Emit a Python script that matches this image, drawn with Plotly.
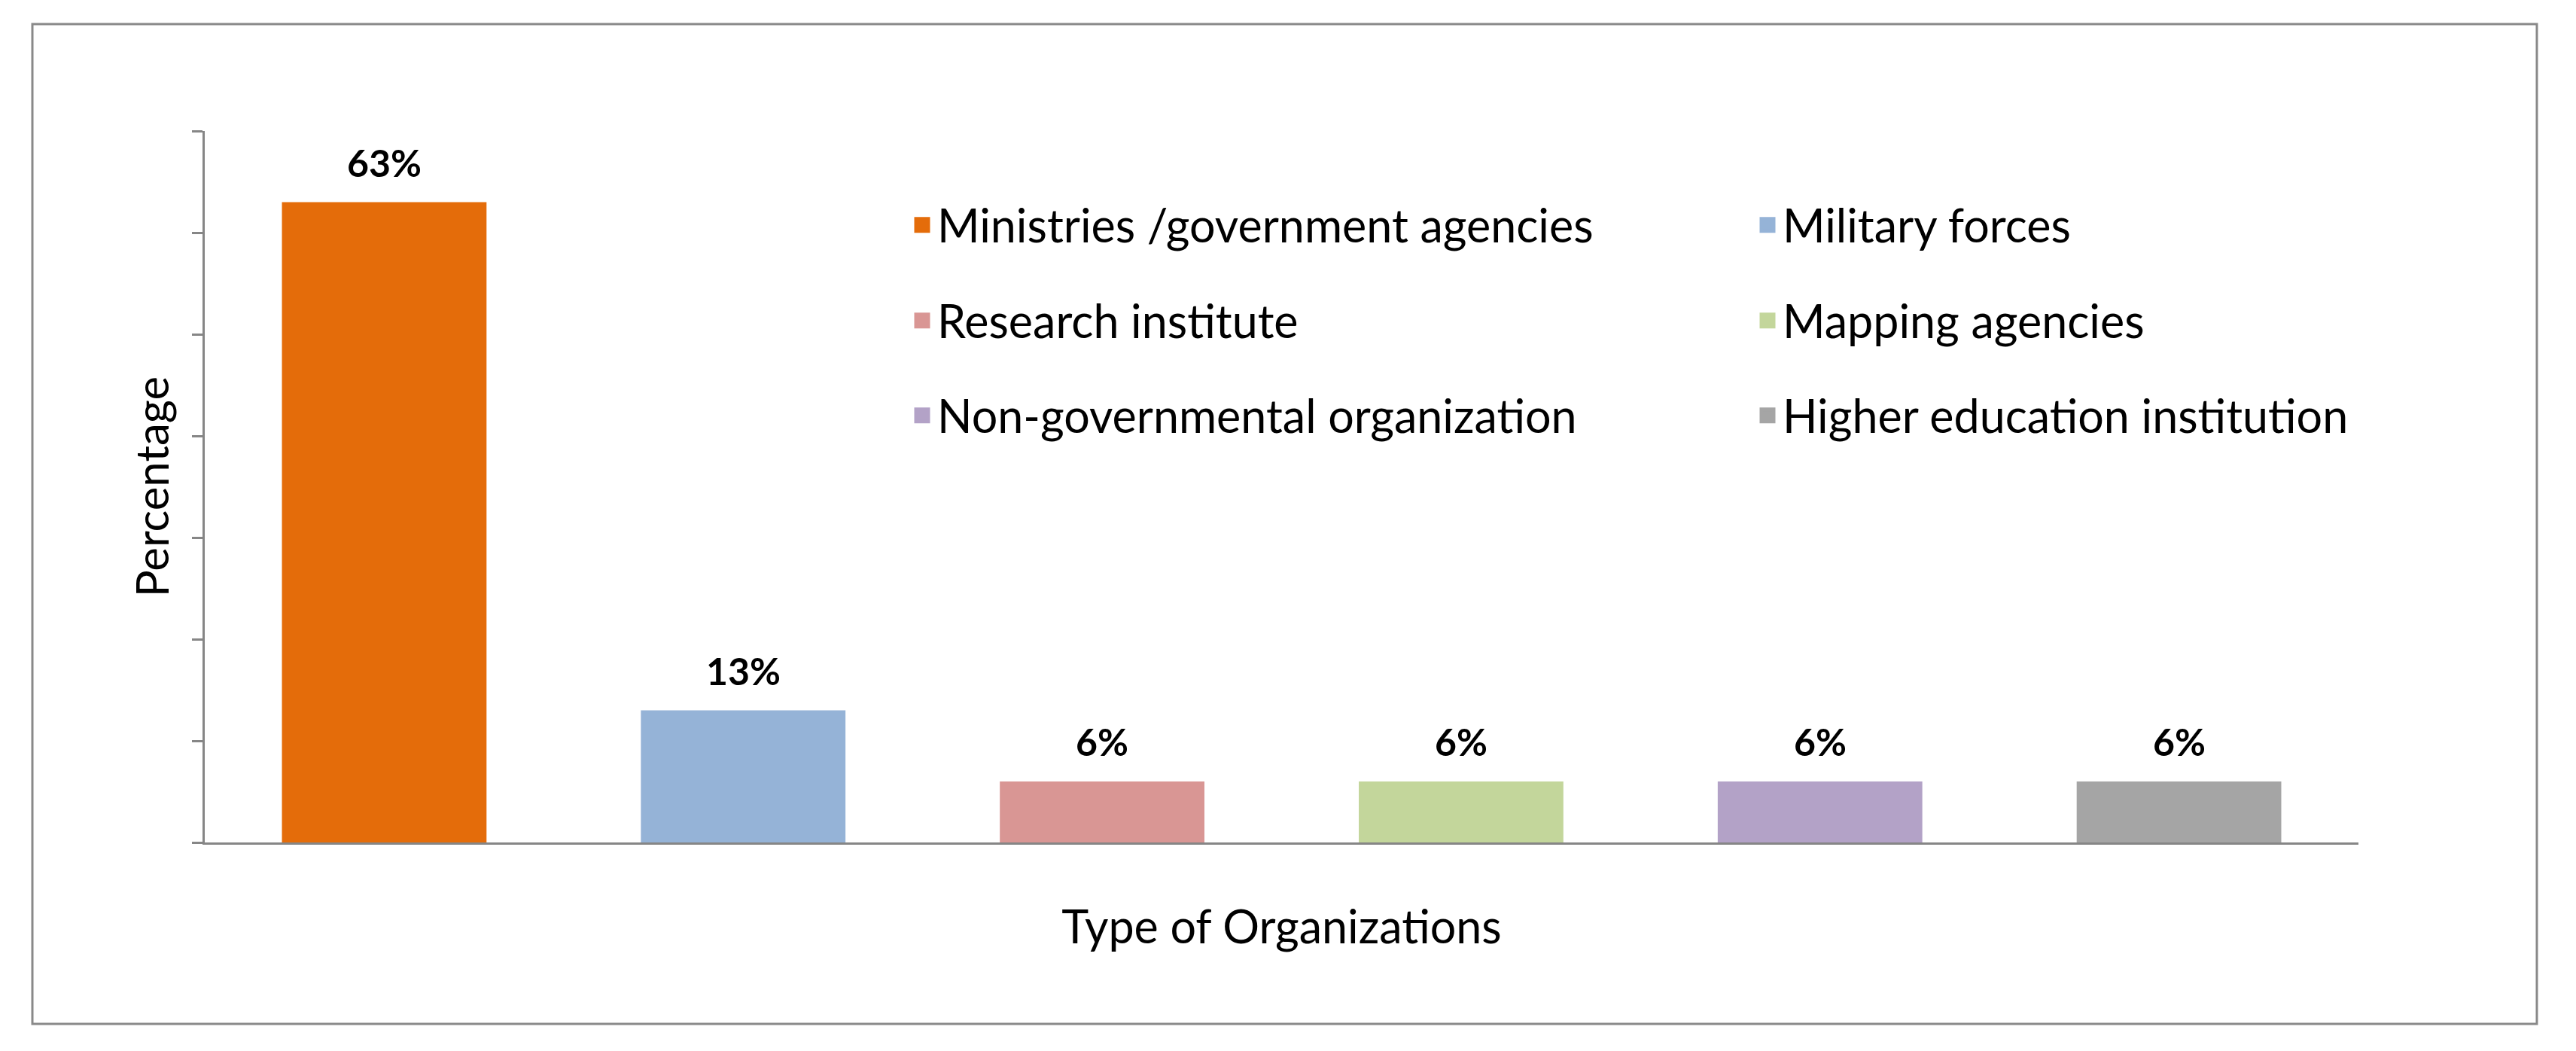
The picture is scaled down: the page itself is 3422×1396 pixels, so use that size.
import plotly.graph_objects as go

categories = ["Ministries /government agencies", "Military forces", "Research institute",
              "Mapping agencies", "Non-governmental organization", "Higher education institution"]
values = [63, 13, 6, 6, 6, 6]
labels = ["63%", "13%", "6%", "6%", "6%", "6%"]
colors = ["#E46C0A", "#95B3D7", "#D99694", "#C3D69B", "#B3A2C7", "#A5A5A5"]
y_ticks = [0, 10, 20, 30, 40, 50, 60, 70]

# page is rendered with the default 8px body margin
OFF = 8
W, H = 3422 - 2 * OFF, 1396 - 2 * OFF
L, T = 272 - OFF, 174 - OFF
R = W - (3133 - OFF)
B = H - (1119 - OFF)
pw, ph = W - L - R, H - T - B
FONT = "Lato"
AX = "#868686"

def px_x(p):
    return (p - OFF - L) / pw

def px_y(p):
    return (H - B - (p - OFF)) / ph

fig = go.Figure()
fig.add_trace(go.Bar(
    x=categories, y=values, marker=dict(color=colors, line=dict(width=0)),
    width=0.57, showlegend=False, hoverinfo="x+y"))

# legend layout: two columns, three rows (entries fill row by row)
col_left = [1205, 2328]
row_center = [299, 426, 552]
legend_ids = ["legend", "legend2", "legend3", "legend4", "legend5", "legend6"]
legend_layouts = {}
for i, (cat, col, lg) in enumerate(zip(categories, colors, legend_ids)):
    fig.add_trace(go.Scatter(
        x=[None], y=[None], mode="markers", name=cat, legend=lg,
        marker=dict(symbol="square", size=16, color=col, line=dict(color=col, width=5))))
    legend_layouts[lg] = dict(
        x=px_x(col_left[i % 2]), xanchor="left",
        y=px_y(row_center[i // 2]), yanchor="middle",
        bgcolor="rgba(0,0,0,0)", borderwidth=0, itemwidth=30,
        font=dict(family=FONT, size=61, color="#000000"))

for cat, v, lab in zip(categories, values, labels):
    fig.add_annotation(x=cat, y=v, text=f"<b>{lab}</b>", showarrow=False,
                       yanchor="bottom", yshift=21,
                       font=dict(family=FONT, size=50, color="#000000"))

fig.update_layout(
    width=W, height=H,
    margin=dict(l=L, r=R, t=T, b=B, pad=0, autoexpand=False),
    paper_bgcolor="white", plot_bgcolor="white",
    font=dict(family=FONT, color="#000000"),
    showlegend=True,
    xaxis=dict(showticklabels=False, ticks="", showline=True, linecolor=AX, linewidth=3,
               showgrid=False, zeroline=False,
               title=dict(text="Type of Organizations", font=dict(family=FONT, size=61),
                          standoff=90)),
    yaxis=dict(range=[0, 70], tickvals=y_ticks, showticklabels=False, ticks="outside",
               ticklen=14, tickwidth=3, tickcolor=AX, showline=True, linecolor=AX,
               linewidth=3, showgrid=False, zeroline=False,
               title=dict(text="Percentage", font=dict(family=FONT, size=60), standoff=12)),
    shapes=[dict(type="rect", xref="paper", yref="paper",
                 x0=px_x(43), x1=px_x(3370), y0=px_y(1360), y1=px_y(32),
                 line=dict(color="#898989", width=3), fillcolor="rgba(0,0,0,0)", layer="below")],
    **legend_layouts,
)

fig.write_html("out.html")
